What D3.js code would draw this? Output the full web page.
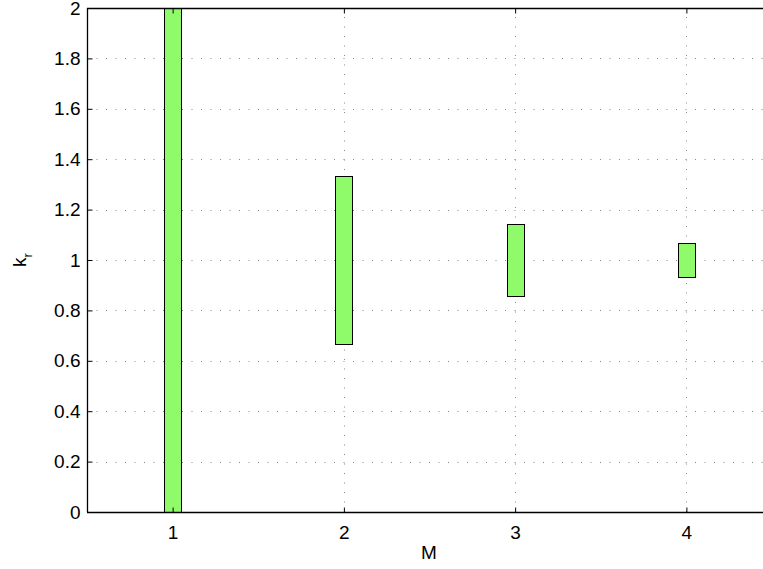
<!DOCTYPE html>
<html><head><meta charset="utf-8">
<script src="https://cdn.jsdelivr.net/npm/d3@7"></script>
<style>body{margin:0;background:#fff}svg{display:block}text{font-family:"Liberation Sans",Arial,sans-serif}</style>
</head><body>
<svg id="c" width="763" height="569"></svg>
<script>
const categories = [1, 2, 3, 4];
const lowValues = [0, 0.667, 0.857, 0.933];
const highValues = [2, 1.333, 1.143, 1.067];
const yTicks = [0, 0.2, 0.4, 0.6, 0.8, 1, 1.2, 1.4, 1.6, 1.8, 2];
const xTicks = [1, 2, 3, 4];

const FS = "19px";
const svg = d3.select("#c");
const L = 87, T = 8, B = 512, R = 772;
const x = d3.scaleLinear().domain([0.5, 4.5]).range([L, R]);
const y = d3.scaleLinear().domain([0, 2]).range([B, T]);
const barHalf = 0.05;

// grid
const g = svg.append("g");
g.selectAll("line.h").data(yTicks.slice(1)).join("line")
  .attr("x1", L).attr("x2", R).attr("y1", d => Math.round(y(d)) + 0.5).attr("y2", d => Math.round(y(d)) + 0.5)
  .attr("stroke", "#888").attr("stroke-width", 1).attr("stroke-dasharray", "1,8.5");
g.selectAll("line.v").data(xTicks).join("line")
  .attr("y1", B).attr("y2", T).attr("x1", d => Math.round(x(d)) + 0.5).attr("x2", d => Math.round(x(d)) + 0.5)
  .attr("stroke", "#888").attr("stroke-width", 1).attr("stroke-dasharray", "1,8.5");

// bars
svg.append("g").selectAll("rect").data(categories).join("rect")
  .attr("x", (d) => Math.round(x(d - barHalf)) + 0.5)
  .attr("width", (d) => Math.round(x(d + barHalf)) - Math.round(x(d - barHalf)))
  .attr("y", (d, i) => Math.round(y(highValues[i])) + 0.5)
  .attr("height", (d, i) => Math.round(y(lowValues[i])) - Math.round(y(highValues[i])))
  .attr("fill", "#90fb6a").attr("stroke", "#000").attr("stroke-width", 1);

// axes
const yAxis = d3.axisLeft(y).tickValues(yTicks).tickSize(-5).tickPadding(7).tickFormat(d3.format("~g"));
const ya = svg.append("g").attr("transform", `translate(${L + 0.5},0)`).call(yAxis);
const xAxis = d3.axisBottom(x).tickValues(xTicks).tickSize(-5).tickPadding(8).tickFormat(d3.format("d"));
const xa = svg.append("g").attr("transform", `translate(0,${B + 0.5})`).call(xAxis);
const xTop = d3.axisTop(x).tickValues(xTicks).tickSize(-5).tickFormat("");
const xt = svg.append("g").attr("transform", `translate(0,${T + 0.5})`).call(xTop);
[ya, xa, xt].forEach(a => {
  a.attr("font-size", null).attr("font-family", null);
  a.selectAll("path.domain").attr("stroke", "#000").attr("stroke-width", 1.3);
  a.selectAll(".tick line").attr("stroke", "#000");
  a.selectAll("text").style("font-size", FS).attr("fill", "#000").style("font-family", '"Liberation Sans",Arial,sans-serif');
});
xa.selectAll(".tick text").attr("y", 13).attr("dy", "0.71em");
xt.select("path.domain").attr("d", `M${L},0H${R}`);
ya.select("path.domain").attr("d", `M0,${B}V${T}`);
xa.select("path.domain").attr("d", `M${L},0H${R}`);

// labels
svg.append("text").attr("x", 429).attr("y", 559).attr("text-anchor", "middle")
  .style("font-size", FS).text("M");
const yl = svg.append("text").attr("transform", `translate(26,${(T + B) / 2}) rotate(-90)`)
  .attr("text-anchor", "middle").style("font-size", FS);
yl.append("tspan").text("k");
yl.append("tspan").style("font-size", "13px").attr("dy", 6).text("r");
</script>
</body></html>
